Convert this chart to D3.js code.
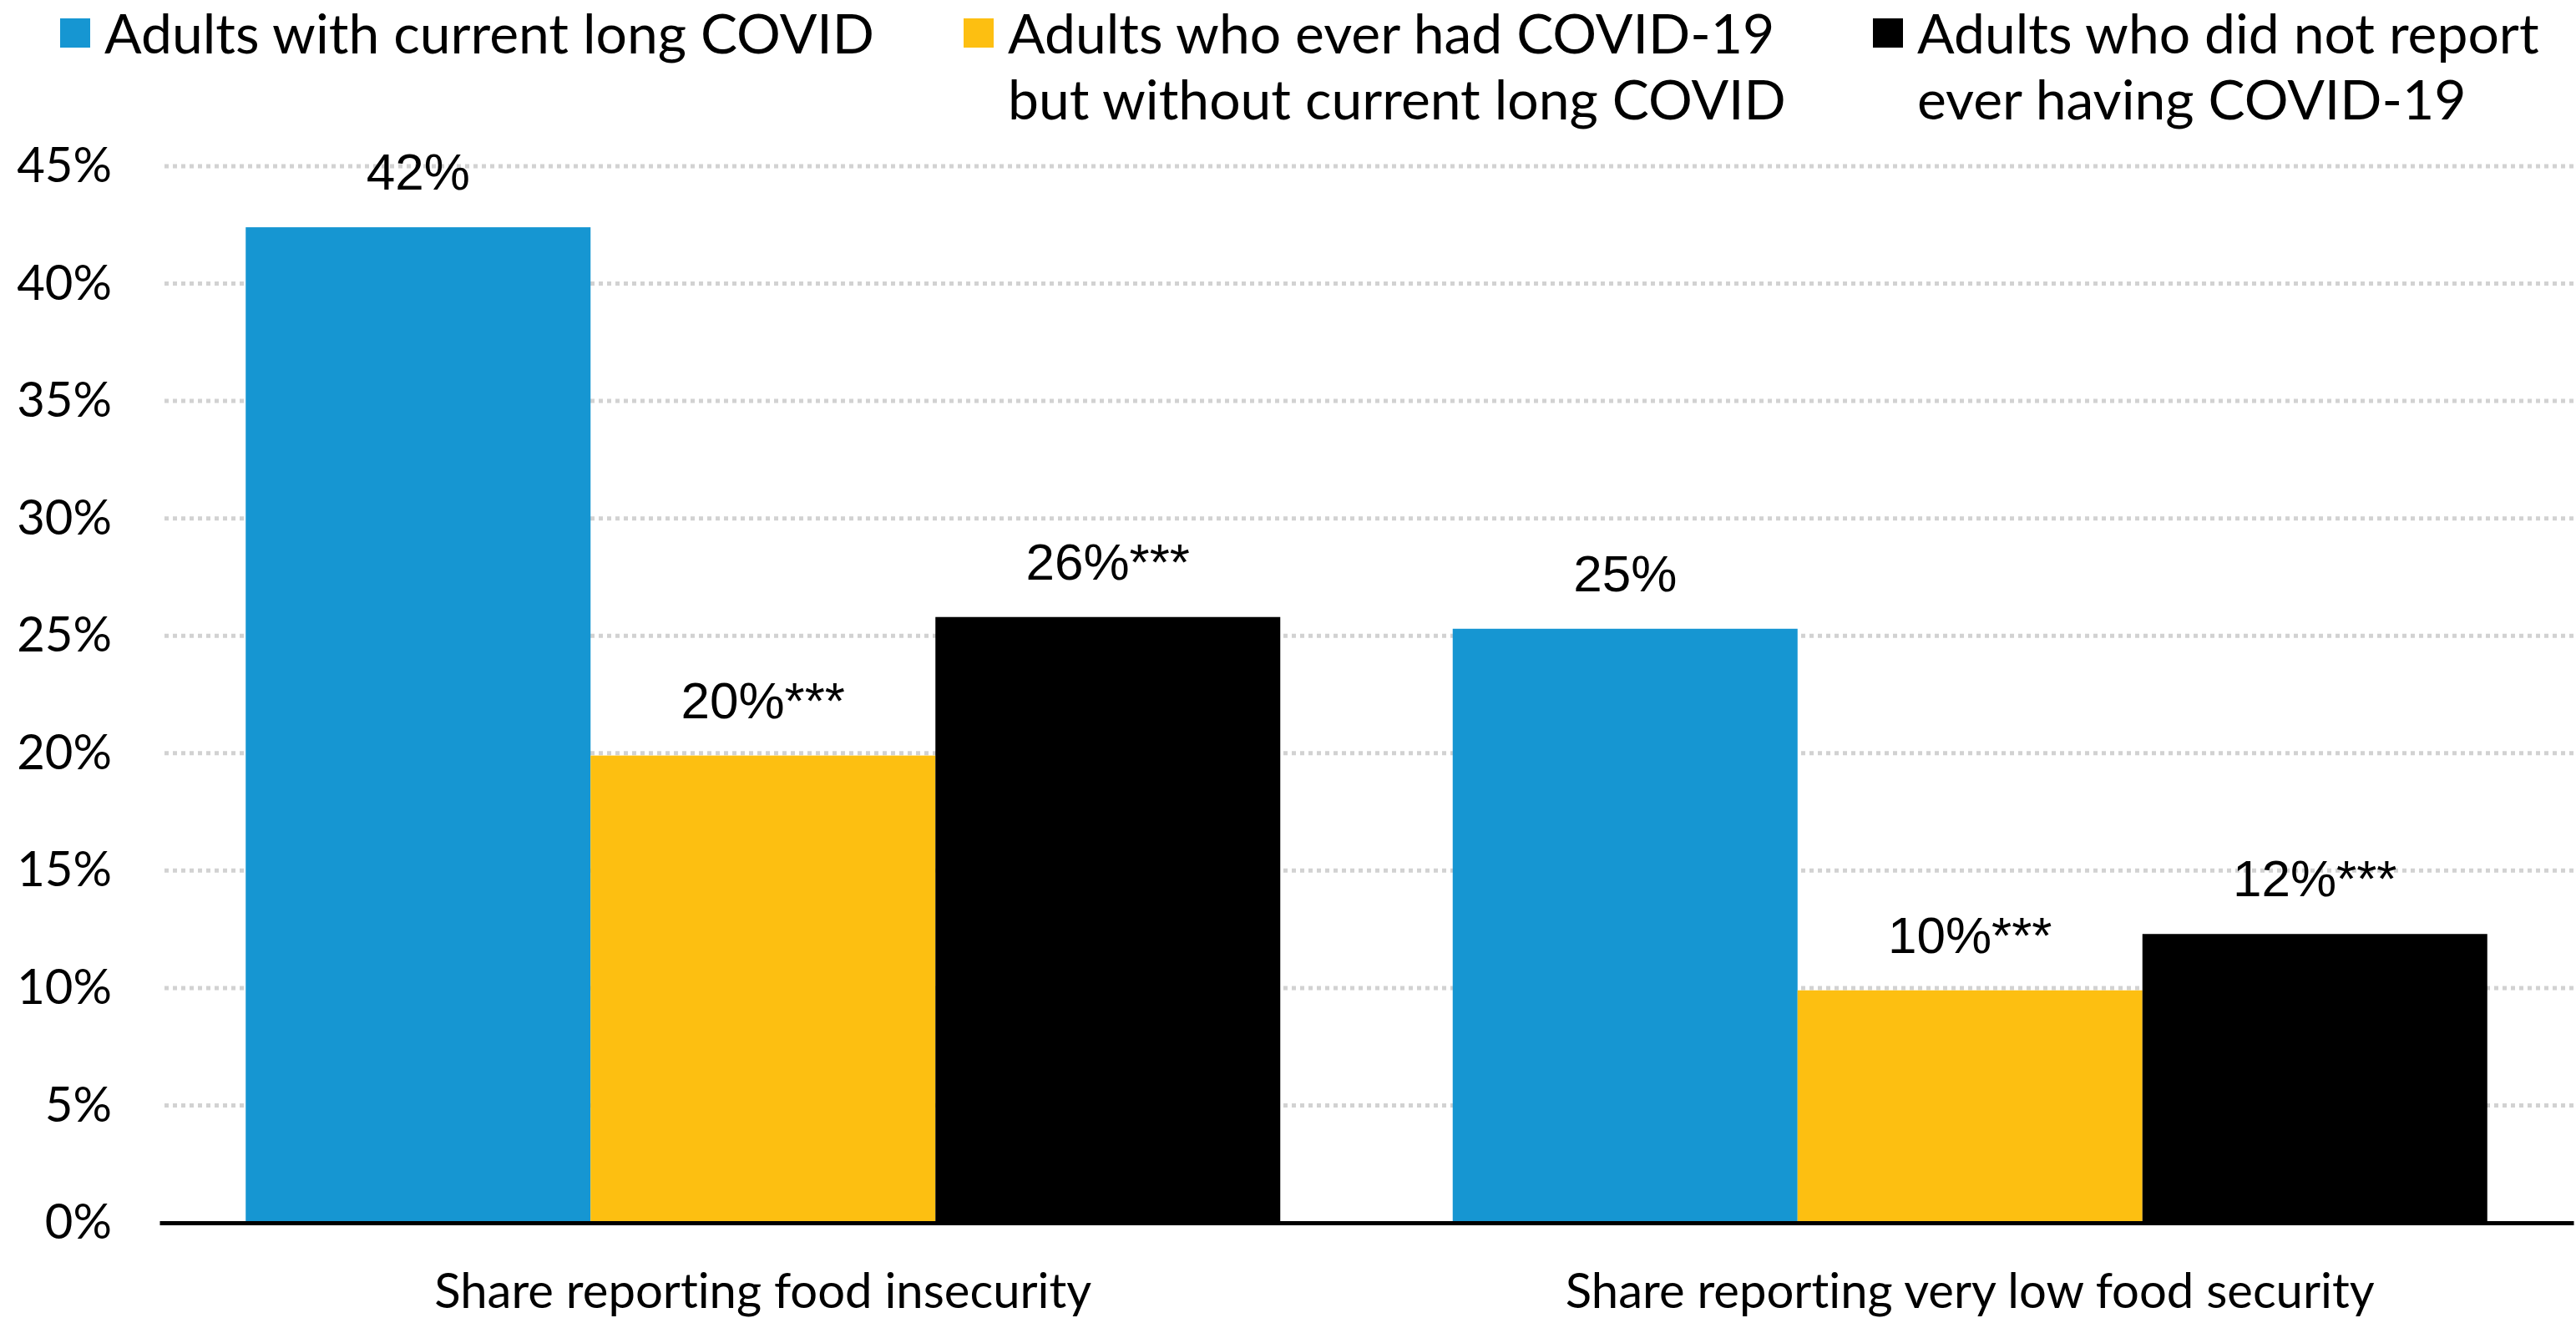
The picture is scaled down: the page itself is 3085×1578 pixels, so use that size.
<!DOCTYPE html>
<html>
<head>
<meta charset="utf-8">
<script src="https://cdn.jsdelivr.net/npm/d3@7"></script>
<style>
  body { margin: 0; background: #fff; }
  svg { display: block; }
  text { font-variant-ligatures: none; font-feature-settings: "liga" 0; }
</style>
</head>
<body>
<div id="chart"></div>
<script>
// chart data
var categories = ["Share reporting food insecurity", "Share reporting very low food security"];
var series = ["Adults with current long COVID",
              "Adults who ever had COVID-19 but without current long COVID",
              "Adults who did not report ever having COVID-19"];
var legendLines = [["Adults with current long COVID"],
                   ["Adults who ever had COVID-19", "but without current long COVID"],
                   ["Adults who did not report", "ever having COVID-19"]];
var longCovid = [42.4, 25.3];
var everHad = [19.9, 9.9];
var neverHad = [25.8, 12.3];
var barLabels = [["42%", "25%"], ["20%***", "10%***"], ["26%***", "12%***"]];
var yTicks = [0, 5, 10, 15, 20, 25, 30, 35, 40, 45];
var colors = ["#1696d2", "#fdbf11", "#000000"];

var width = 3085,
    height = 1578;

var svg = d3.select('#chart')
    .append('svg')
    .attr('width', width)
    .attr('height', height);

var values = [longCovid, everHad, neverHad];

var x0 = d3.scaleBand()
    .domain(categories)
    .range([191, 3082])
    .padding(0);

var x1 = d3.scaleBand()
    .domain(d3.range(series.length))
    .range([0, x0.bandwidth()])
    .paddingInner(0)
    .paddingOuter(0.25);

var y = d3.scaleLinear()
    .domain([0, 45])
    .range([1464, 199]);

// gridlines
svg.append('g')
    .selectAll('line')
    .data(yTicks.filter(function(d) { return d > 0; }))
    .enter().append('line')
    .attr('x1', 197)
    .attr('x2', 3082)
    .attr('y1', function(d) { return y(d); })
    .attr('y2', function(d) { return y(d); })
    .attr('stroke', '#d2d2d2')
    .attr('stroke-width', 5)
    .attr('stroke-dasharray', '5,5');

// y axis labels
var yAxis = d3.axisLeft(y)
    .tickValues(yTicks)
    .tickFormat(function(d) { return d + '%'; })
    .tickSize(0)
    .tickPadding(0);

var yg = svg.append('g')
    .attr('transform', 'translate(134,0)')
    .call(yAxis);
yg.select('.domain').remove();
yg.selectAll('text')
    .attr('font-family', 'Lato')
    .attr('font-size', 58)
    .attr('fill', '#000');

// bars
var groups = svg.append('g')
    .selectAll('g')
    .data(categories)
    .enter().append('g')
    .attr('transform', function(d) { return 'translate(' + x0(d) + ',0)'; });

var cells = function(d, i) {
    return values.map(function(v, s) { return { s: s, v: v[i], label: barLabels[s][i] }; });
};

groups.selectAll('rect')
    .data(cells)
    .enter().append('rect')
    .attr('x', function(d) { return x1(d.s); })
    .attr('width', x1.bandwidth())
    .attr('y', function(d) { return y(d.v); })
    .attr('height', function(d) { return y(0) - y(d.v); })
    .attr('fill', function(d) { return colors[d.s]; });

groups.selectAll('text')
    .data(cells)
    .enter().append('text')
    .attr('x', function(d) { return x1(d.s) + x1.bandwidth() / 2; })
    .attr('y', function(d) { return y(d.v) - 45; })
    .attr('text-anchor', 'middle')
    .attr('font-family', 'Liberation Sans')
    .attr('font-size', 62)
    .attr('fill', '#000')
    .text(function(d) { return d.label; });

// x axis
var xAxis = d3.axisBottom(x0)
    .tickSize(0)
    .tickPadding(61);

var xg = svg.append('g')
    .attr('transform', 'translate(0,' + y(0) + ')')
    .call(xAxis);
xg.select('.domain')
    .attr('stroke', '#000')
    .attr('stroke-width', 5);
xg.selectAll('text')
    .attr('font-family', 'Lato')
    .attr('font-size', 58)
    .attr('fill', '#000');

// legend
var legendX = [72, 1154, 2243];
var legend = svg.append('g')
    .selectAll('g')
    .data(series)
    .enter().append('g')
    .attr('transform', function(d, i) { return 'translate(' + legendX[i] + ',0)'; });

legend.append('rect')
    .attr('x', 0)
    .attr('y', 22)
    .attr('width', 36)
    .attr('height', 35)
    .attr('fill', function(d, i) { return colors[i]; });

legend.append('text')
    .attr('font-family', 'Lato')
    .attr('font-size', 66)
    .attr('fill', '#000')
    .selectAll('tspan')
    .data(function(d, i) { return legendLines[i]; })
    .enter().append('tspan')
    .attr('x', 53)
    .attr('y', function(d, j) { return 64 + j * 79; })
    .text(function(d) { return d; });
</script>
</body>
</html>
